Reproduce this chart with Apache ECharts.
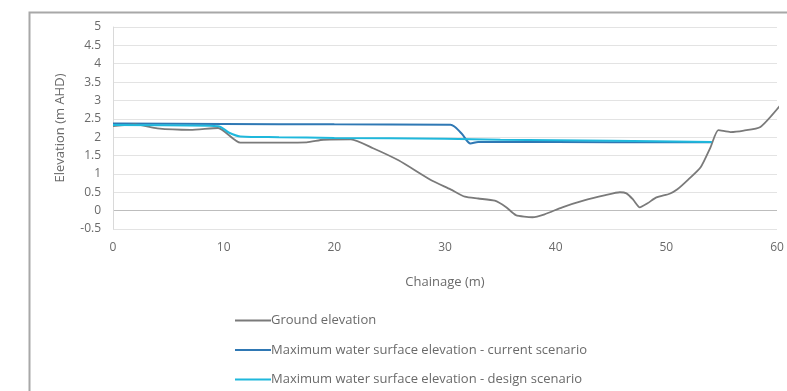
<!DOCTYPE html>
<html>
<head>
<meta charset="utf-8">
<script src="https://cdn.jsdelivr.net/npm/echarts@6/dist/echarts.min.js"></script>
<style>html,body{margin:0;padding:0;background:#fff}#c{width:787px;height:391px}</style>
</head>
<body>
<div id="c"></div>
<script>
var seriesNames = ['Ground elevation', 'Maximum water surface elevation - current scenario', 'Maximum water surface elevation - design scenario'];
var groundX = [0, 2, 4, 7, 9.5, 11.5, 17.5, 19, 21.5, 23.5, 25.8, 28.8, 30.5, 31.8, 33, 34.5, 35.5, 36.4, 37.9, 39, 40.6, 42.5, 44.5, 45.8, 46.4, 47, 47.6, 48.3, 49.1, 50.3, 51, 52, 53.1, 54, 54.7, 55.8, 57, 58.5, 60.3];
var groundY = [2.3, 2.35, 2.24, 2.2, 2.25, 1.85, 1.86, 1.93, 1.94, 1.7, 1.37, 0.82, 0.58, 0.38, 0.33, 0.27, 0.1, -0.12, -0.18, -0.1, 0.09, 0.27, 0.42, 0.5, 0.47, 0.3, 0.09, 0.2, 0.36, 0.46, 0.58, 0.85, 1.18, 1.73, 2.19, 2.14, 2.18, 2.28, 2.87];
var currentX = [0, 10, 20, 30.5, 31.5, 32.3, 33, 40, 50, 54.1];
var currentY = [2.37, 2.36, 2.35, 2.34, 2.1, 1.83, 1.87, 1.87, 1.86, 1.86];
var designX = [0, 9.5, 10.5, 11.5, 15, 20, 30, 35, 45, 54.1];
var designY = [2.33, 2.3, 2.12, 2.02, 2.0, 1.98, 1.96, 1.93, 1.9, 1.87];
var xTicks = {min: 0, max: 60, interval: 10};
var yTicks = {min: -0.5, max: 5, interval: 0.5};

function pairs(xs, ys) { return xs.map(function (x, i) { return [x, ys[i]]; }); }
var colors = ['#7a7a7a', '#2f78b4', '#1fb8dc'];
var gridColors = [];
for (var v = yTicks.min; v <= yTicks.max + 1e-9; v += yTicks.interval) {
  gridColors.push(Math.abs(v) < 1e-9 ? '#bdbdbd' : '#e3e3e3');
}
var chart = echarts.init(document.getElementById('c'), null, {renderer: 'canvas'});
chart.setOption({
  animation: false,
  backgroundColor: '#fff',
  textStyle: {fontFamily: 'Open Sans'},
  graphic: [{
    type: 'rect', left: 27, top: 10, z: -1,
    shape: {width: 800, height: 420},
    style: {fill: 'none', stroke: '#a8a8a8', lineWidth: 2}
  }],
  grid: {left: 113, right: 10, top: 27, bottom: 162},
  legend: {
    orient: 'vertical', left: 230, top: 309, itemGap: 16.5,
    itemWidth: 36, itemHeight: 19,
    icon: 'path://M0,8.5 L36,8.5 L36,10.5 L0,10.5 Z',
    textStyle: {color: '#6a6a6a', fontSize: 13, padding: [0, 0, 0, -5]},
    data: seriesNames
  },
  xAxis: {
    type: 'value', min: xTicks.min, max: xTicks.max, interval: xTicks.interval,
    name: 'Chainage (m)', nameLocation: 'middle', nameGap: 47,
    nameTextStyle: {color: '#6a6a6a', fontSize: 13},
    axisLine: {show: false, onZero: false}, axisTick: {show: false},
    axisLabel: {color: '#6a6a6a', fontSize: 12, margin: 13},
    splitLine: {show: false}
  },
  yAxis: {
    type: 'value', min: yTicks.min, max: yTicks.max, interval: yTicks.interval,
    name: 'Elevation (m AHD)', nameLocation: 'middle', nameGap: 46,
    nameTextStyle: {color: '#6a6a6a', fontSize: 13},
    axisLine: {show: true, lineStyle: {color: '#d9d9d9'}}, axisTick: {show: false},
    axisLabel: {color: '#6a6a6a', fontSize: 12, margin: 12},
    splitLine: {show: true, lineStyle: {color: gridColors, width: 1}}
  },
  series: [
    {name: seriesNames[0], type: 'line', showSymbol: false, symbol: 'none', smooth: 0.2,
     data: pairs(groundX, groundY), lineStyle: {color: colors[0], width: 1.8}, itemStyle: {color: colors[0]}, z: 3},
    {name: seriesNames[1], type: 'line', showSymbol: false, symbol: 'none', smooth: 0.3,
     data: pairs(currentX, currentY), lineStyle: {color: colors[1], width: 2}, itemStyle: {color: colors[1]}, z: 2},
    {name: seriesNames[2], type: 'line', showSymbol: false, symbol: 'none', smooth: 0.3,
     data: pairs(designX, designY), lineStyle: {color: colors[2], width: 2}, itemStyle: {color: colors[2]}, z: 4}
  ]
});
</script>
</body>
</html>
